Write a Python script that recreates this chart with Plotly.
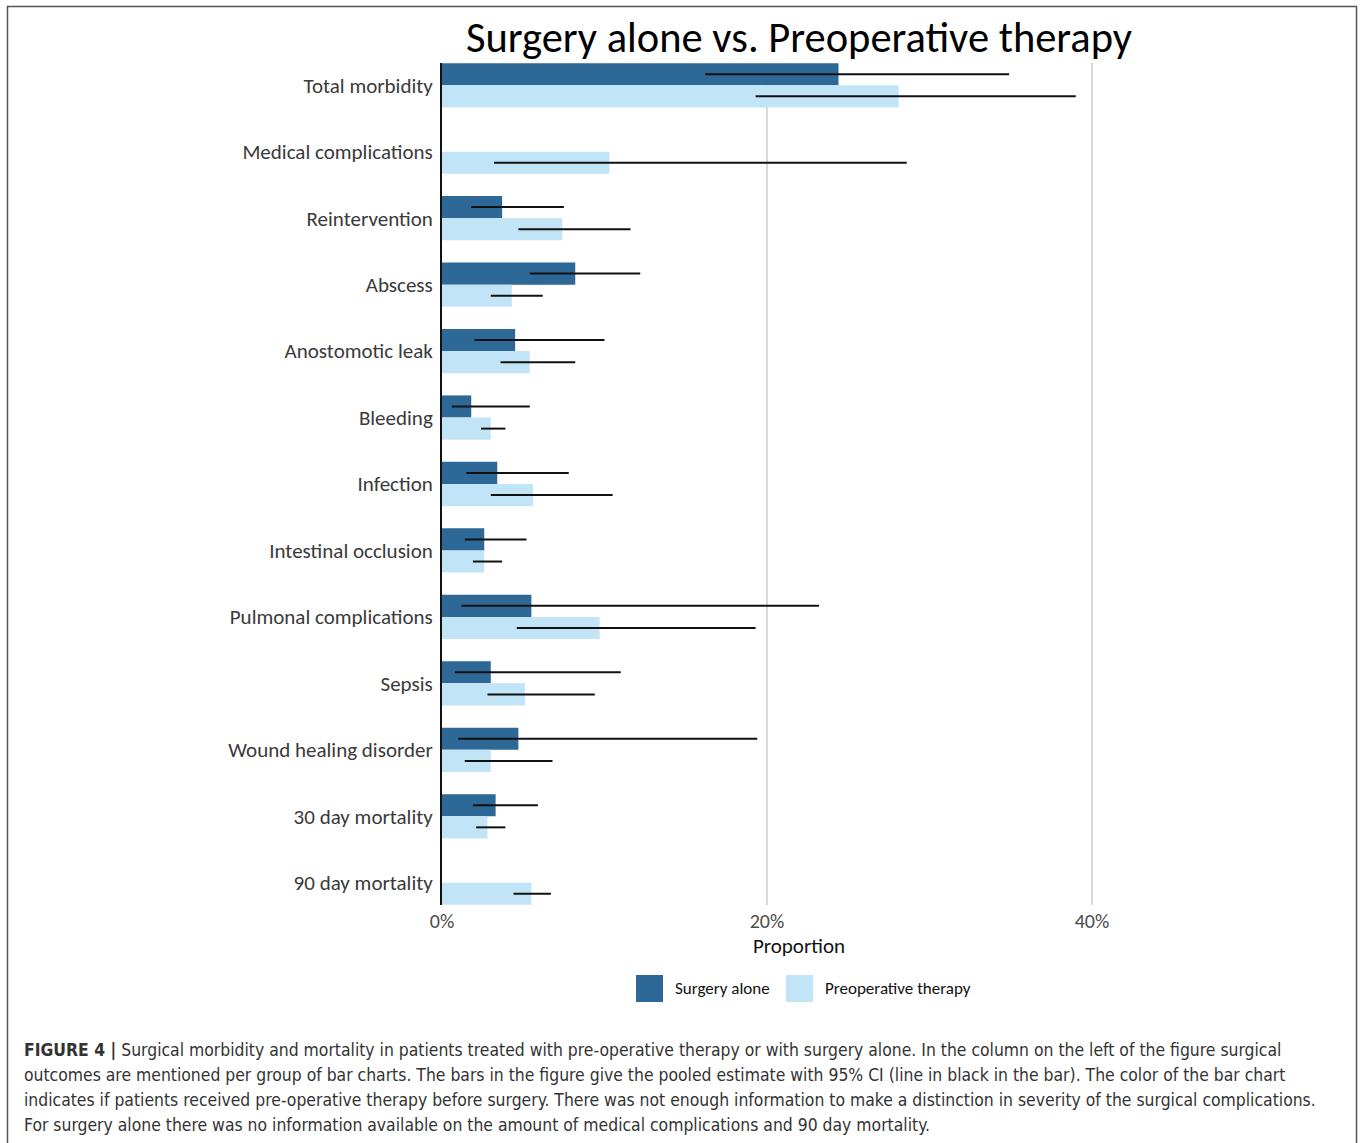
import plotly.graph_objects as go

# Outcomes, top to bottom
categories = [
    "Total morbidity", "Medical complications", "Reintervention", "Abscess",
    "Anostomotic leak", "Bleeding", "Infection", "Intestinal occlusion",
    "Pulmonal complications", "Sepsis", "Wound healing disorder",
    "30 day mortality", "90 day mortality",
]

# Pooled proportions (%) with 95% CI, surgery alone
surgery_est = [24.4, None, 3.7, 8.2, 4.5, 1.8, 3.4, 2.6, 5.5, 3.0, 4.7, 3.3, None]
surgery_lo = [16.2, None, 1.8, 5.4, 2.0, 0.6, 1.5, 1.4, 1.2, 0.8, 1.0, 1.9, None]
surgery_hi = [34.9, None, 7.5, 12.2, 10.0, 5.4, 7.8, 5.2, 23.2, 11.0, 19.4, 5.9, None]

# Pooled proportions (%) with 95% CI, preoperative therapy
preop_est = [28.1, 10.3, 7.4, 4.3, 5.4, 3.0, 5.6, 2.6, 9.7, 5.1, 3.0, 2.8, 5.5]
preop_lo = [19.3, 3.2, 4.7, 3.0, 3.6, 2.4, 3.0, 1.9, 4.6, 2.8, 1.4, 2.1, 4.4]
preop_hi = [39.0, 28.6, 11.6, 6.2, 8.2, 3.9, 10.5, 3.7, 19.3, 9.4, 6.8, 3.9, 6.7]

series_names = ["Surgery alone", "Preoperative therapy"]
series_colors = ["#2d6896", "#c1e5f7"]

caption_lines = [
    "<b>FIGURE 4 |</b> Surgical morbidity and mortality in patients treated with pre-operative therapy or with surgery alone. In the column on the left of the figure surgical",
    "outcomes are mentioned per group of bar charts. The bars in the figure give the pooled estimate with 95% CI (line in black in the bar). The color of the bar chart",
    "indicates if patients received pre-operative therapy before surgery. There was not enough information to make a distinction in severity of the surgical complications.",
    "For surgery alone there was no information available on the amount of medical complications and 90 day mortality.",
]

W, H = 1360, 1143
ML, MR, MT, MB = 442, 204, 63, 238
PW, PH = W - ML - MR, H - MT - MB


def px_x(x):
    return (x - ML) / PW


def px_y(y):
    return (H - MB - y) / PH


def frac(vals):
    return [None if v is None else v / 100 for v in vals]


def err_plus(est, hi):
    return [None if e is None else (h - e) / 100 for e, h in zip(est, hi)]


def err_minus(est, lo):
    return [None if e is None else (e - l) / 100 for e, l in zip(est, lo)]


fig = go.Figure()
for name, color, est, lo, hi in [
    (series_names[0], series_colors[0], surgery_est, surgery_lo, surgery_hi),
    (series_names[1], series_colors[1], preop_est, preop_lo, preop_hi),
]:
    fig.add_trace(go.Bar(
        y=categories, x=frac(est), name=name, orientation="h",
        marker=dict(color=color, line=dict(width=0)),
        error_x=dict(type="data", array=err_plus(est, hi),
                     arrayminus=err_minus(est, lo), symmetric=False,
                     color="#111111", thickness=2, width=0),
        showlegend=False,
    ))

chart_font = "Carlito, Lato, 'Open Sans', sans-serif"

fig.update_layout(
    width=W, height=H,
    margin=dict(l=ML, r=MR, t=MT, b=MB),
    paper_bgcolor="white", plot_bgcolor="white",
    barmode="group", bargap=0.334, bargroupgap=0,
    font=dict(family=chart_font, size=21, color="#3a3a3a"),
    title=dict(text="Surgery alone vs. Preoperative therapy",
               font=dict(family=chart_font, size=42.5, color="#000000"),
               x=0.5, xref="paper", xanchor="center",
               y=1 - 37 / H, yref="container", yanchor="middle"),
    xaxis=dict(range=[0, PW / 16.25 / 100], tickvals=[0, 0.2, 0.4],
               tickformat=".0%", showgrid=True, gridcolor="#d9d9d9",
               gridwidth=1.5, zeroline=False, showline=False, ticks="",
               ticklabelstandoff=2,
               tickfont=dict(size=20, color="#4d4d4d"),
               title=dict(text="Proportion", standoff=3,
                          font=dict(size=21, color="#111111"))),
    yaxis=dict(categoryorder="array", categoryarray=categories,
               range=[len(categories) - 1 + 0.335, -0.335],
               showline=True, linecolor="#111111", linewidth=2,
               showgrid=False, ticks="", ticklabelstandoff=3,
               tickfont=dict(size=21, color="#3a3a3a")),
)

# Legend swatches and labels
legend_items = [(636, series_colors[0], series_names[0]),
                (786, series_colors[1], series_names[1])]
for x0, color, label in legend_items:
    fig.add_shape(type="rect", xref="paper", yref="paper",
                  x0=px_x(x0), x1=px_x(x0 + 27), y0=px_y(1002), y1=px_y(975),
                  fillcolor=color, line=dict(width=0))
    fig.add_annotation(text=label, xref="paper", yref="paper",
                       x=px_x(x0 + 37), y=px_y(989), xanchor="left",
                       yanchor="middle", showarrow=False,
                       font=dict(family=chart_font, size=17, color="#111111"))

# Figure frame
fig.add_shape(type="rect", xref="paper", yref="paper",
              x0=px_x(7.5), x1=px_x(1356.5), y0=px_y(1160), y1=px_y(6.5),
              line=dict(color="#555555", width=1.5), fillcolor="rgba(0,0,0,0)",
              layer="below")

# Caption
caption_font = "'Liberation Sans Narrow', 'DejaVu Sans Condensed', 'Liberation Sans', sans-serif"
for i, line in enumerate(caption_lines):
    fig.add_annotation(text=line, xref="paper", yref="paper",
                       x=px_x(22), y=px_y(1050 + 25 * i), xanchor="left",
                       yanchor="middle", showarrow=False, align="left",
                       font=dict(family=caption_font, size=17.4, color="#333333"))

fig.write_html("out.html")
